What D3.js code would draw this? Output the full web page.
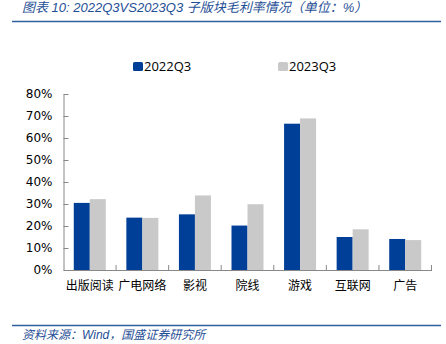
<!DOCTYPE html>
<html><head><meta charset="utf-8">
<script src="https://cdn.jsdelivr.net/npm/d3@7"></script>
<style>body{margin:0;background:#fff}svg{display:block}</style>
</head><body>
<script>
const categories = ["出版阅读","广电网络","影视","院线","游戏","互联网","广告"];
const series2022 = [30.5, 23.8, 25.3, 20.2, 66.5, 15.0, 14.1];
const series2023 = [32.2, 23.7, 33.9, 29.9, 68.9, 18.5, 13.6];
const seriesNames = ["2022Q3","2023Q3"];
const yTicks = [0,10,20,30,40,50,60,70,80];

const W=446,H=344;
const svg=d3.select("body").append("svg").attr("width",W).attr("height",H);
const blue="#003f98", grey="#c9c9c9", lineBlue="#2e5f9f", titleBlue="#1f4f96";

svg.append("text").attr("x",22).attr("y",12).attr("fill",titleBlue)
  .attr("font-family","'Liberation Sans','Noto Sans CJK SC',sans-serif").attr("font-style","italic").attr("font-size",13)
  .text("图表 10:  2022Q3VS2023Q3 子版块毛利率情况（单位：%）");
svg.append("line").attr("x1",12).attr("x2",441).attr("y1",21.5).attr("y2",21.5).attr("stroke",lineBlue).attr("stroke-width",1.5);
svg.append("line").attr("x1",12).attr("x2",441).attr("y1",325.5).attr("y2",325.5).attr("stroke",lineBlue).attr("stroke-width",1.5);
svg.append("text").attr("x",22).attr("y",339).attr("fill",titleBlue)
  .attr("font-family","'Liberation Sans','Noto Sans CJK SC',sans-serif").attr("font-style","italic").attr("font-size",12)
  .text("资料来源：Wind，国盛证券研究所");

const x0=63.5, x1=431.5, yTop=94, yBot=270;
const x=d3.scaleBand().domain(categories).range([x0,x1]).paddingInner(0).paddingOuter(0);
const y=d3.scaleLinear().domain([0,80]).range([yBot,yTop]);

const g=svg.append("g");
const yAxis=d3.axisLeft(y).tickValues(yTicks).tickFormat(d=>d+"%").tickSizeInner(-5).tickSizeOuter(0).tickPadding(11);
const ya=g.append("g").attr("transform",`translate(${x0},0)`).call(yAxis);
ya.selectAll("text").attr("font-family","'DejaVu Sans',Verdana,sans-serif").attr("font-size",12).attr("fill","#000");
ya.selectAll("line,path").attr("stroke","#888");

const bw=16;
const inner=d3.scaleBand().domain(seriesNames).range([0,2*bw]);
const data=categories.map((c,i)=>({c,v:[series2022[i],series2023[i]]}));
const cg=g.selectAll(".cat").data(data).enter().append("g")
  .attr("transform",d=>`translate(${x(d.c)+(x.bandwidth()-2*bw)/2},0)`);
cg.selectAll("rect").data(d=>d.v.map((v,j)=>({v,s:seriesNames[j],j}))).enter().append("rect")
  .attr("x",d=>inner(d.s)).attr("width",bw).attr("y",d=>y(d.v)).attr("height",d=>yBot-y(d.v))
  .attr("fill",d=>d.j===0?blue:grey);

const xAxis=d3.axisBottom(x).tickSizeInner(0).tickSizeOuter(0).tickPadding(11);
const xa=g.append("g").attr("transform",`translate(0,${yBot})`).call(xAxis);
xa.selectAll("text").attr("font-family","'Noto Sans CJK SC',sans-serif").attr("font-size",12).attr("fill","#000");
xa.select("path").attr("stroke","#888");
// category boundary ticks
const bounds=categories.map(c=>x(c)).concat([x1]);
g.selectAll(".bt").data(bounds.slice(1)).enter().append("line")
  .attr("x1",d=>d).attr("x2",d=>d).attr("y1",yBot-5).attr("y2",yBot).attr("stroke","#888");

const leg=svg.append("g");
const lx=[133,278];
seriesNames.forEach((s,i)=>{
  leg.append("rect").attr("x",lx[i]).attr("y",62).attr("width",10).attr("height",9).attr("rx",1.5).attr("fill",i===0?blue:grey);
  leg.append("text").attr("x",lx[i]+11).attr("y",71).attr("font-family","'Open Sans','Noto Sans',sans-serif").attr("font-size",13).attr("fill","#000").text(s);
});
</script>
</body></html>
